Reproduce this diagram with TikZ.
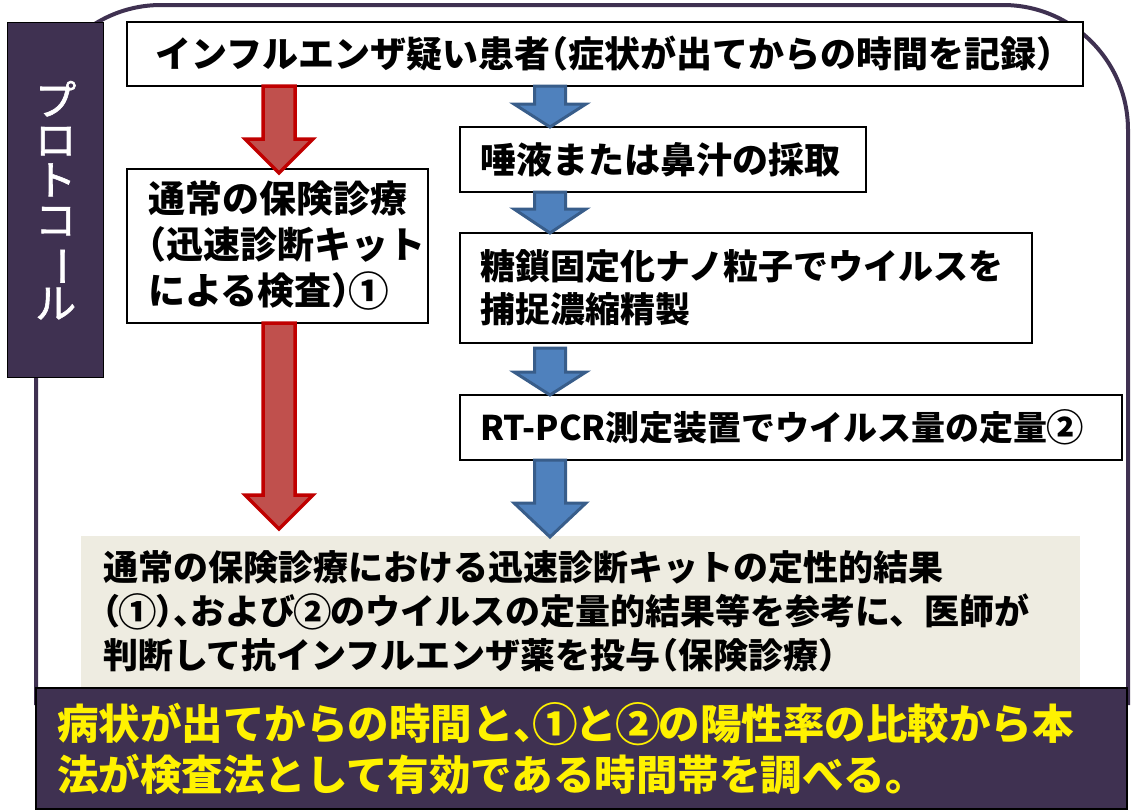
\documentclass[tikz,border=0pt]{standalone}
\usepackage{fontspec}
\usetikzlibrary{calc}
\newfontfamily\jp{Noto Sans CJK JP}
\newcommand\hw[1]{{\addfontfeature{RawFeature=+halt}#1}}
\newcommand\cnum[1]{\makebox[1em][c]{\raisebox{-0.05em}{\scalebox{1.1}{#1}}}}
\definecolor{navy}{HTML}{3F3151}
\definecolor{redfill}{HTML}{C0504D}
\definecolor{redline}{HTML}{C00000}
\definecolor{bluefill}{HTML}{4F81BD}
\definecolor{blueline}{HTML}{385D8A}
\definecolor{beige}{HTML}{EEECE1}
% #1 style, #2 start, #3 tip, #4 head length, #5 shaft half width, #6 head half width
\newcommand{\blockarrow}[6]{%
  \path[#1] let \p1=(#2), \p2=(#3) in
    (\x1-#5,\y1) -- (\x1-#5,\y2+#4) -- (\x1-#6,\y2+#4) -- (\x1,\y2)
    -- (\x1+#6,\y2+#4) -- (\x1+#5,\y2+#4) -- (\x1+#5,\y1) -- cycle;}
\tikzset{
  box/.style={draw=black, line width=1.4pt, fill=white, anchor=north west,
    inner ysep=0pt, outer sep=0pt, align=left},
  redarrow/.style={fill=redfill, draw=redline, line width=3.5pt, line join=miter},
  bluearrow/.style={fill=bluefill, draw=blueline, line width=3pt, line join=miter},
}
\begin{document}
\begin{tikzpicture}[x=1pt,y=-1pt]
\useasboundingbox (0,0) rectangle (1135,811);
% outer frame
\draw[navy, line width=4pt, rounded corners=125pt] (36,705) -- (36,5) -- (1128,5) -- (1128,705);
% protocol label
\node[draw=black, line width=1.4pt, fill=navy, anchor=north west, minimum width=96pt,
  minimum height=355pt, inner sep=0pt, text=white, align=center,
  font=\jp\addfontfeature{FakeBold=1.5}\fontsize{41}{40}\selectfont] (proto) at (7,22)
  {プ\\ロ\\ト\\コ\\\rotatebox[origin=c]{-90}{ー}\\ル};
% boxes
\node[box, minimum height=64pt, text width=916pt, inner xsep=20pt, align=center,
  font=\jp\bfseries\fontsize{36}{40}\selectfont] (top) at (127,22)
  {インフルエンザ疑い患者\hw{（}症状が出てからの時間を記録\hw{）}};
\node[box, minimum height=154pt, text width=259pt, inner xsep=21pt,
  font=\jp\bfseries\fontsize{37}{46}\selectfont] (kit) at (127,169)
  {通常の保険診療\\\hw{（}迅速診断キット\\による検査\hw{）}\cnum{①}};
\node[box, minimum height=65pt, text width=366pt, inner xsep=20pt,
  font=\jp\bfseries\fontsize{36}{40}\selectfont] (saliva) at (460,127)
  {唾液または鼻汁の採取};
\node[box, minimum height=110pt, text width=532pt, inner xsep=20pt,
  font=\jp\bfseries\fontsize{35}{43}\selectfont] (nano) at (460,233)
  {糖鎖固定化ナノ粒子でウイルスを\\捕捉濃縮精製};
\node[box, minimum height=65pt, text width=622pt, inner xsep=20pt,
  font=\jp\bfseries\fontsize{34}{40}\selectfont] (rt) at (460,395)
  {RT-PCR測定装置でウイルス量の定量\cnum{②}};
\node[fill=beige, anchor=north west, minimum height=151pt, text width=955pt,
  inner xsep=22pt, inner ysep=0pt, outer sep=0pt, align=left,
  font=\jp\bfseries\fontsize{35}{44}\selectfont] (res) at (81,536)
  {通常の保険診療における迅速診断キットの定性的結果\\
   \hw{（}\cnum{①}\hw{）、}および\cnum{②}のウイルスの定量的結果等を参考に、医師が\\
   判断して抗インフルエンザ薬を投与\hw{（}保険診療\hw{）}};
% arrow columns
\coordinate (rx) at (279,0);
\coordinate (bx) at (550,0);
\coordinate (r1tip) at ($(kit.north -| rx)+(0,4)$);
\coordinate (r2tip) at ($(res.north -| rx)+(0,-7)$);
\coordinate (b3start) at ($(nano.south -| bx)+(0,5)$);
\coordinate (b4tip) at ($(res.north -| bx)+(0,1)$);
\blockarrow{redarrow}{top.south -| rx}{r1tip}{34}{16}{34}
\blockarrow{redarrow}{kit.south -| rx}{r2tip}{34}{16}{34}
\blockarrow{bluearrow}{top.south -| bx}{saliva.north -| bx}{23}{15.5}{36}
\blockarrow{bluearrow}{saliva.south -| bx}{nano.north -| bx}{24}{15.5}{36}
\blockarrow{bluearrow}{b3start}{rt.north -| bx}{23}{15.5}{36}
\blockarrow{bluearrow}{rt.south -| bx}{b4tip}{34}{15.5}{36}
% conclusion
\node[draw=black, line width=1.4pt, fill=navy, anchor=north west, minimum height=121pt,
  text width=1049pt, inner xsep=21pt, inner ysep=0pt, outer sep=0pt, align=left,
  text=yellow, font=\jp\bfseries\fontsize{41.5}{51}\selectfont] (concl) at (36,688)
  {病状が出てからの時間と\hw{、}\cnum{①}と\cnum{②}の陽性率の比較から本\\
   法が検査法として有効である時間帯を調べる。};
\end{tikzpicture}
\end{document}
